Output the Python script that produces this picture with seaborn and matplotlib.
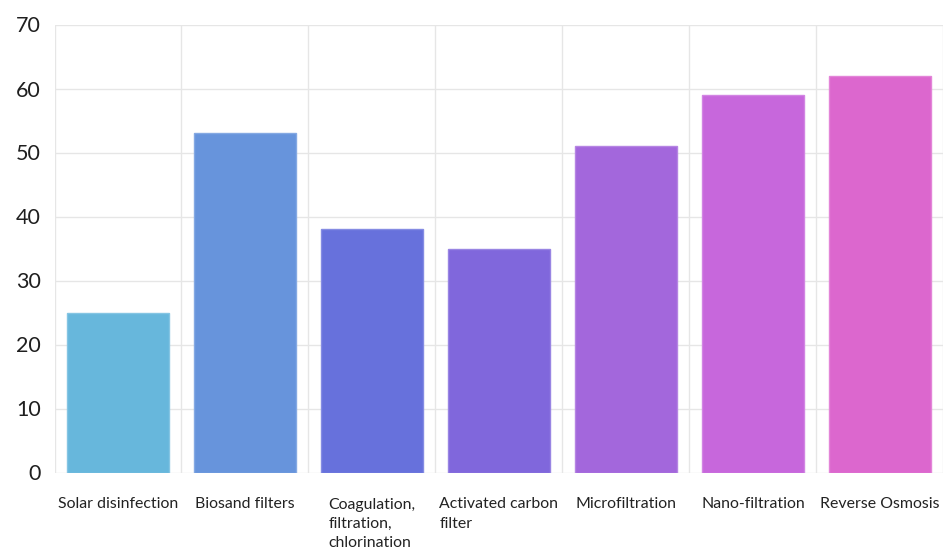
import matplotlib
matplotlib.use("Agg")
import matplotlib.pyplot as plt
import seaborn as sns
import pandas as pd

categories = ["Solar disinfection", "Biosand filters", "Coagulation,\nfiltration,\nchlorination",
              "Activated carbon\nfilter", "Microfiltration", "Nano-filtration", "Reverse Osmosis"]
values = [25, 53, 38, 35, 51, 59, 62]
colors = ["#67b7dc", "#6794dc", "#6771dc", "#8067dc", "#a367dc", "#c767dc", "#dc67ce"]
edge_colors = ["#85c5e3", "#85a9e3", "#858ce3", "#9985e3", "#b685e3", "#d285e3", "#e385d8"]
y_ticks = [0, 10, 20, 30, 40, 50, 60, 70]

sns.set_theme(style="white")
plt.rcParams["font.family"] = ["Lato", "DejaVu Sans"]

df = pd.DataFrame({"method": categories, "value": values})

fig = plt.figure(figsize=(9.51, 5.52), dpi=100)
ax = fig.add_axes([54.5 / 951, (552 - 472.5) / 552, (943.5 - 54.5) / 951, (472.5 - 24.5) / 552])

sns.barplot(data=df, x="method", y="value", hue="method", palette=colors,
            legend=False, width=0.8, ax=ax, saturation=1)
for patch, ec in zip(ax.patches, edge_colors):
    patch.set_edgecolor(ec)
    patch.set_linewidth(1)

ax.set_xlim(-0.5, len(categories) - 0.5)
ax.set_ylim(0, 70)
ax.set_yticks(y_ticks)
ax.set_yticklabels([str(t) for t in y_ticks], fontsize=15.5, color="#1f1f1f")
ax.tick_params(axis="y", length=0, pad=10)
ax.tick_params(axis="x", length=0, pad=18)

# category separators and horizontal grid
ax.set_xticks(range(len(categories)))
ax.set_xticklabels(categories, fontsize=11.4, color="#222222", va="top", ha="center",
                   multialignment="left", linespacing=1.47)
for b in [i - 0.5 for i in range(len(categories) + 1)]:
    ax.axvline(b, color="#e6e6e6", lw=1.0, zorder=0)
for t in y_ticks:
    ax.axhline(t, color="#e6e6e6", lw=1.0, zorder=0)

for s in ax.spines.values():
    s.set_visible(False)
ax.set_xlabel("")
ax.set_ylabel("")

fig.savefig("out.png", dpi=100)
